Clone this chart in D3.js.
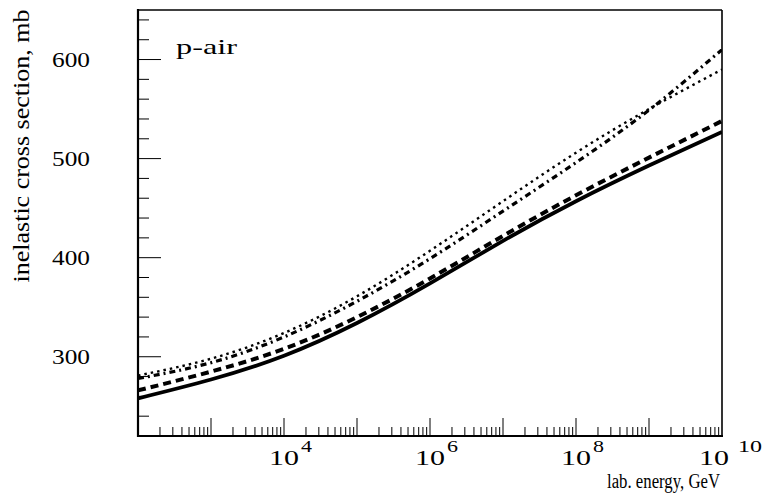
<!DOCTYPE html>
<html>
<head>
<meta charset="utf-8">
<script src="https://cdn.jsdelivr.net/npm/d3@7"></script>
<style>
  body { margin: 0; background: #fff; }
  svg { display: block; }
  text { font-family: "Liberation Serif", "DejaVu Serif", serif; fill: #000; }
</style>
</head>
<body>
<svg width="763" height="493"></svg>
<script>
// lab energies (GeV), one point per decade
const energies = [1e2, 1e3, 1e4, 1e5, 1e6, 1e7, 1e8, 1e9, 1e10];

// inelastic p-air cross sections, mb
const solidVals   = [258, 277, 301, 334, 374, 417, 457, 493, 527];
const dashedVals  = [266, 285, 308, 340, 379, 422, 463, 501, 538];
const dottedVals  = [281, 298, 324, 361, 407, 457, 506, 550, 590];
const dashDotVals = [278, 294, 320, 356, 399, 447, 496, 549, 610];

const yMajorTicks = [300, 400, 500, 600];
const xLabelPowers = [4, 6, 8, 10];

const svg = d3.select("svg");

const plotL = 138, plotR = 722, plotT = 10, plotB = 436;

const x = d3.scaleLog().domain([1e2, 1e10]).range([plotL, plotR]);
const y = d3.scaleLinear().domain([220, 650]).range([plotB, plotT]);

// curves
const series = [
    { vals: solidVals,   width: 3.8, dash: null },
    { vals: dashedVals,  width: 4,   dash: "8,5" },
    { vals: dottedVals,  width: 2.4, dash: "2.5,4" },
    { vals: dashDotVals, width: 3.2, dash: "6,4,2,4" }
];

const line = d3.line()
    .x(d => x(d[0]))
    .y(d => y(d[1]))
    .curve(d3.curveNatural);

svg.append("clipPath").attr("id", "plotclip")
    .append("rect")
    .attr("x", plotL).attr("y", plotT)
    .attr("width", plotR - plotL).attr("height", plotB - plotT);

svg.append("g")
    .attr("clip-path", "url(#plotclip)")
    .selectAll("path")
    .data(series)
    .enter().append("path")
    .attr("d", s => line(energies.map((e, i) => [e, s.vals[i]])))
    .attr("fill", "none")
    .attr("stroke", "#000")
    .attr("stroke-width", s => s.width)
    .attr("stroke-dasharray", s => s.dash);

// y ticks (inside the frame, on the left)
const yMinor = d3.range(240, 650, 20);
svg.append("g").selectAll("line")
    .data(yMinor)
    .enter().append("line")
    .attr("x1", plotL)
    .attr("x2", d => plotL + (d % 100 === 0 ? 23 : 11))
    .attr("y1", d => y(d))
    .attr("y2", d => y(d))
    .attr("stroke", "#000")
    .attr("stroke-width", 1);

svg.append("g").selectAll("text")
    .data(yMajorTicks)
    .enter().append("text")
    .attr("x", 90)
    .attr("y", d => y(d) + 7)
    .attr("text-anchor", "end")
    .attr("font-size", 21)
    .attr("textLength", 38)
    .attr("lengthAdjust", "spacingAndGlyphs")
    .text(d => d);

// x ticks (log, inside the frame, on the bottom)
const xTicks = [];
for (let p = 2; p < 10; p++) {
    for (let m = 1; m < 10; m++) {
        const v = m * Math.pow(10, p);
        if (v > 1e2) xTicks.push({ v: v, m: m });
    }
}
svg.append("g").selectAll("line")
    .data(xTicks)
    .enter().append("line")
    .attr("x1", d => x(d.v))
    .attr("x2", d => x(d.v))
    .attr("y1", plotB)
    .attr("y2", d => plotB - (d.m === 1 ? 18 : 9))
    .attr("stroke", "#000")
    .attr("stroke-width", 1);

// x tick labels: 10 with a raised exponent
const xl = svg.append("g").selectAll("g")
    .data(xLabelPowers)
    .enter().append("g")
    .attr("transform", p => `translate(${x(Math.pow(10, p)) - (p === 10 ? 8 : 0)},0)`);

xl.append("text")
    .attr("x", 0)
    .attr("y", 465)
    .attr("text-anchor", "middle")
    .attr("font-size", 22)
    .attr("textLength", 30)
    .attr("lengthAdjust", "spacingAndGlyphs")
    .text("10");

xl.append("text")
    .attr("x", p => p === 10 ? 24 : 17)
    .attr("y", 452)
    .attr("font-size", 16)
    .attr("textLength", p => p === 10 ? 24 : 11)
    .attr("lengthAdjust", "spacingAndGlyphs")
    .text(p => p);

// frame
svg.append("line").attr("x1", plotL).attr("x2", plotL).attr("y1", plotT - 1).attr("y2", plotB + 1)
    .attr("stroke", "#000").attr("stroke-width", 2.2);
svg.append("line").attr("x1", plotL - 1).attr("x2", plotR + 1).attr("y1", plotB).attr("y2", plotB)
    .attr("stroke", "#000").attr("stroke-width", 2.2);
svg.append("line").attr("x1", plotL).attr("x2", plotR).attr("y1", plotT).attr("y2", plotT)
    .attr("stroke", "#000").attr("stroke-width", 1.6);
svg.append("line").attr("x1", plotR).attr("x2", plotR).attr("y1", plotT).attr("y2", plotB)
    .attr("stroke", "#000").attr("stroke-width", 1.6);

// labels
svg.append("text")
    .attr("x", 176)
    .attr("y", 54)
    .attr("font-size", 22)
    .attr("textLength", 61)
    .attr("lengthAdjust", "spacingAndGlyphs")
    .text("p-air");

svg.append("text")
    .attr("x", 720)
    .attr("y", 488)
    .attr("text-anchor", "end")
    .attr("font-size", 20)
    .attr("textLength", 113)
    .attr("lengthAdjust", "spacingAndGlyphs")
    .text("lab. energy, GeV");

svg.append("text")
    .attr("transform", "translate(29,146) rotate(-90)")
    .attr("text-anchor", "middle")
    .attr("font-size", 24)
    .attr("textLength", 273)
    .attr("lengthAdjust", "spacingAndGlyphs")
    .text("inelastic cross section, mb");
</script>
</body>
</html>
